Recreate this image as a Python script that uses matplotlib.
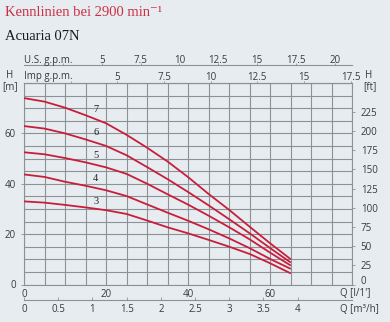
import matplotlib
matplotlib.use("Agg")
import matplotlib.pyplot as plt
from matplotlib.ticker import MultipleLocator, FixedLocator

# ---------------- data ----------------
q_lmin = [0, 5, 10, 15, 20, 25, 30, 35, 40, 45, 50, 55, 60, 65]
h_stage7 = [74.0, 72.6, 70.2, 67.2, 64.0, 59.4, 54.3, 48.8, 42.6, 35.9, 29.6, 22.9, 16.3, 10.0]
h_stage6 = [62.9, 61.9, 60.0, 57.6, 55.0, 51.3, 46.6, 41.8, 36.7, 31.4, 25.9, 20.3, 14.4, 8.7]
h_stage5 = [52.5, 51.7, 50.2, 48.5, 46.5, 43.9, 40.0, 35.8, 31.7, 27.3, 22.7, 17.9, 12.6, 7.5]
h_stage4 = [43.7, 42.7, 40.8, 39.2, 37.4, 35.1, 31.8, 28.5, 25.3, 21.9, 18.3, 14.4, 10.1, 6.2]
h_stage3 = [33.0, 32.5, 31.6, 30.6, 29.5, 28.0, 25.4, 22.7, 20.3, 17.7, 15.0, 12.1, 8.4, 4.4]
stage_names = ["7", "6", "5", "4", "3"]
stage_label_h = [69.5, 60.3, 51.4, 42.2, 32.9]
stage_label_q = 17.5

x_ticks_lmin = [0, 20, 40, 60]
y_ticks_m = [0, 20, 40, 60]
y_ticks_ft = [0, 25, 50, 75, 100, 125, 150, 175, 200, 225]
ticks_m3h = [0, 0.5, 1, 1.5, 2, 2.5, 3, 3.5, 4]
ticks_us = [2.5, 5, 7.5, 10, 12.5, 15, 17.5, 20]
labels_us = ["", "5", "7.5", "10", "12.5", "15", "17.5", "20"]
ticks_imp = [2.5, 5, 7.5, 10, 12.5, 15, 17.5]
labels_imp = ["", "5", "7.5", "10", "12.5", "15", "17.5"]

# ---------------- style ----------------
BG = "#e6ecef"
GRID = "#8b9195"
RED = "#c81e3c"
TXT = "#3a3a3a"
SANS = ["Open Sans", "DejaVu Sans"]
SERIF = ["Liberation Serif", "DejaVu Serif"]
FS = 7

W, H = 390, 322
fig = plt.figure(figsize=(W / 100, H / 100), dpi=100, facecolor=BG)

def fx(px):
    return px / W

def fy(py):
    return 1 - py / H

left, right, top, bottom = 24, 352.4, 83, 284.5
ax = fig.add_axes([fx(left), fy(bottom), fx(right - left), (bottom - top) / H])
ax.set_facecolor(BG)
ax.set_xlim(0, 80)
ax.set_ylim(0, 80)

ax.xaxis.set_major_locator(FixedLocator(x_ticks_lmin))
ax.xaxis.set_minor_locator(MultipleLocator(5))
ax.yaxis.set_major_locator(FixedLocator(y_ticks_m))
ax.yaxis.set_minor_locator(MultipleLocator(5))
ax.grid(True, which="both", color=GRID, linewidth=0.8)
ax.set_axisbelow(True)
for s in ax.spines.values():
    s.set_color(GRID)
    s.set_linewidth(0.8)

ax.tick_params(axis="x", which="both", length=0, pad=3.5, labelsize=FS, colors=TXT)
ax.tick_params(axis="y", which="major", length=2, width=0.6, color=GRID, pad=4,
               labelsize=FS, labelcolor=TXT)
ax.tick_params(axis="y", which="minor", length=0)
for lab in ax.get_xticklabels() + ax.get_yticklabels():
    lab.set_fontfamily(SANS)

# curves
for h in [h_stage7, h_stage6, h_stage5, h_stage4, h_stage3]:
    ax.plot(q_lmin, h, color=RED, linewidth=1.3, solid_capstyle="butt", zorder=3)
for name, hy in zip(stage_names, stage_label_h):
    ax.text(stage_label_q, hy, name, fontsize=7.5, family=SERIF, color="#222222",
            ha="center", va="center", zorder=4)

# right ft axis
ax2 = ax.twinx()
ax2.set_ylim(0, 80 * 3.28084)
ax2.yaxis.set_major_locator(FixedLocator(y_ticks_ft))
ax2.tick_params(axis="y", length=2, width=0.6, color=GRID, pad=4, labelsize=FS,
                labelcolor=TXT)
ft_labels = ax2.get_yticklabels()
for lab in ft_labels:
    lab.set_fontfamily(SANS)
ft_labels[0].set_va("baseline")
for s in ax2.spines.values():
    s.set_visible(False)

# bottom m3/h axis
sec_m3 = ax.secondary_xaxis(-0.077, functions=(lambda q: q * 0.06, lambda m: m / 0.06))
sec_m3.xaxis.set_major_locator(FixedLocator(ticks_m3h))
sec_m3.xaxis.set_major_formatter(plt.FuncFormatter(lambda v, p: f"{v:g}"))
sec_m3.tick_params(axis="x", length=2, width=0.6, color=GRID, pad=3, labelsize=FS,
                   labelcolor=TXT, direction="in")
sec_m3.spines["bottom"].set_color(GRID)
sec_m3.spines["bottom"].set_linewidth(0.8)
for lab in sec_m3.get_xticklabels():
    lab.set_fontfamily(SANS)

# top Imp gpm axis
sec_imp = ax.secondary_xaxis("top", functions=(lambda q: q * 0.219969, lambda g: g / 0.219969))
sec_imp.xaxis.set_major_locator(FixedLocator(ticks_imp))
sec_imp.set_xticklabels(labels_imp)
sec_imp.tick_params(axis="x", length=1.5, width=0.6, color=GRID, pad=-1.5, labelsize=FS,
                    labelcolor=TXT)
sec_imp.spines["top"].set_color(GRID)
for lab in sec_imp.get_xticklabels():
    lab.set_fontfamily(SANS)

# top US gpm axis
sec_us = ax.secondary_xaxis(1.089, functions=(lambda q: q * 0.264172, lambda g: g / 0.264172))
sec_us.xaxis.set_major_locator(FixedLocator(ticks_us))
sec_us.set_xticklabels(labels_us)
sec_us.tick_params(axis="x", length=1.5, width=0.6, color=GRID, pad=-2.5, labelsize=FS,
                   labelcolor=TXT)
sec_us.spines["top"].set_color(GRID)
sec_us.spines["top"].set_linewidth(0.8)
for lab in sec_us.get_xticklabels():
    lab.set_fontfamily(SANS)

# texts
fig.text(fx(5), fy(12), "Kennlinien bei 2900 min\u207b\u00b9", color="#cc2f45",
         fontsize=10.5, family=SERIF, ha="left", va="center")
fig.text(fx(5), fy(37), "Acuaria 07N", color="#1a1a1a",
         fontsize=10.5, family=SERIF, ha="left", va="center")
fig.text(fx(24), fy(60), "U.S. g.p.m.", color=TXT, fontsize=FS, family=SANS,
         ha="left", va="center")
fig.text(fx(24), fy(76), "Imp g.p.m.", color=TXT, fontsize=FS, family=SANS,
         ha="left", va="center")
fig.text(fx(10), fy(76), "H", color=TXT, fontsize=FS, family=SANS, ha="center", va="center")
fig.text(fx(10), fy(87), "[m]", color=TXT, fontsize=FS, family=SANS, ha="center", va="center")
fig.text(fx(365), fy(76), "H", color=TXT, fontsize=FS, family=SANS, ha="left", va="center")
fig.text(fx(363), fy(87), "[ft]", color=TXT, fontsize=FS, family=SANS, ha="left", va="center")
fig.text(fx(340), fy(294), "Q [l/1']", color=TXT, fontsize=FS, family=SANS,
         ha="left", va="center")
fig.text(fx(340), fy(309), "Q [m\u00b3/h]", color=TXT, fontsize=FS, family=SANS,
         ha="left", va="center")

fig.savefig("out.png", dpi=100, facecolor=BG)
